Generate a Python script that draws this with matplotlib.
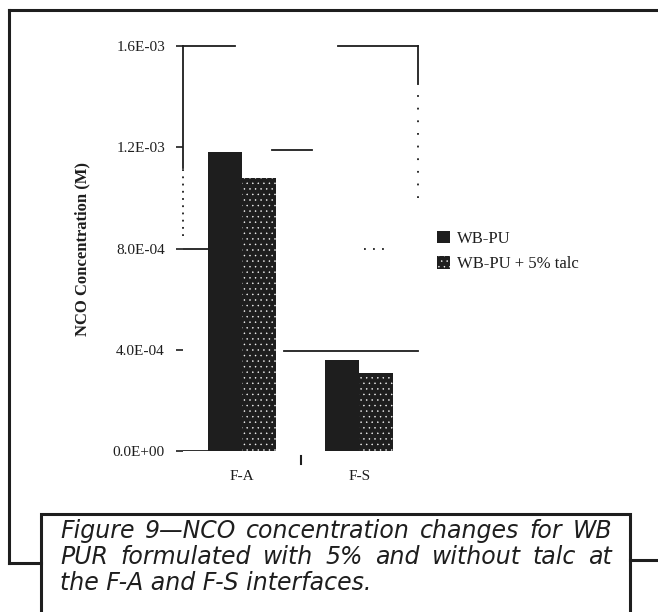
import numpy as np
import matplotlib
matplotlib.use("Agg")
import matplotlib.pyplot as plt
from matplotlib.patches import Rectangle
from matplotlib.lines import Line2D

# data
categories = ["F-A", "F-S"]
wbpu = [1.18e-3, 3.6e-4]
wbpu_talc = [1.08e-3, 3.1e-4]
series_labels = ["WB-PU", "WB-PU + 5% talc"]
yticks = [0.0, 4.0e-4, 8.0e-4, 1.2e-3, 1.6e-3]
ytick_labels = ["0.0E+00", "4.0E-04", "8.0E-04", "1.2E-03", "1.6E-03"]
caption = ["Figure 9\u2014NCO concentration changes for WB",
           "PUR formulated with 5% and without talc at",
           "the F-A and F-S interfaces."]

ink = "#1e1e1e"
serif = "Liberation Serif"
plt.rcParams["hatch.linewidth"] = 0.3

fig = plt.figure(figsize=(6.58, 6.12), dpi=100)
W, H = 658, 612

def fx(px):
    return px / W

def fy(py):
    return 1 - py / H

ax = fig.add_axes([fx(183), fy(451), fx(418) - fx(183), fy(46) - fy(451)])
x = np.arange(len(categories))
bw = 0.29
b1 = ax.bar(x - bw / 2, wbpu, bw, color=ink, linewidth=0)
b2 = ax.bar(x + bw / 2, wbpu_talc, bw, color=ink, edgecolor="white",
            hatch="...", linewidth=0)

ax.set_xlim(-0.5, 1.5)
ax.set_ylim(0, 1.6e-3)
ax.set_yticks(yticks)
ax.set_yticklabels(ytick_labels, fontfamily=serif, fontsize=11, color=ink)
ax.set_xticks(x)
ax.set_xticklabels(categories, fontfamily=serif, fontsize=11, color=ink)
ax.tick_params(axis="x", length=0, pad=14)
ax.tick_params(axis="y", length=5, width=1.2, color=ink, pad=8)
ax.set_ylabel("NCO Concentration (M)", fontfamily=serif, fontsize=12,
              fontweight="bold", color=ink, labelpad=16)

# faded frame and grid as in the scanned original
for s in ["top", "bottom", "left", "right"]:
    ax.spines[s].set_visible(False)
ax.plot([-0.5, -0.5], [1.12e-3, 1.6e-3], color=ink, lw=1.3, clip_on=False)
ax.plot([-0.5, -0.5], [0.85e-3, 1.12e-3], color=ink, lw=1.3, ls=(0, (1, 3)), clip_on=False)
ax.plot([1.5, 1.5], [1.45e-3, 1.6e-3], color=ink, lw=1.3, clip_on=False)
ax.plot([1.5, 1.5], [1.0e-3, 1.45e-3], color=ink, lw=1.3, ls=(0, (1, 6)), clip_on=False)
ax.axhline(1.6e-3, 0, 0.22, color=ink, lw=1.3, clip_on=False)
ax.axhline(1.6e-3, 0.66, 1.0, color=ink, lw=1.3, clip_on=False)
ax.axhline(1.19e-3, 0.38, 0.55, color=ink, lw=1.3)
ax.axhline(8.0e-4, 0, 0.12, color=ink, lw=1.3)
ax.axhline(8.0e-4, 0.77, 0.86, color=ink, lw=1.3, ls=(0, (1, 4)))
ax.axhline(3.95e-4, 0.43, 1.0, color=ink, lw=1.3, clip_on=False)
ax.axhline(0, 0, 0.12, color=ink, lw=1.3)
ax.plot([0.5, 0.5], [-0.05e-3, -0.02e-3], color=ink, lw=1.5, clip_on=False)

leg = fig.legend([b1, b2], series_labels, loc="upper left",
                 bbox_to_anchor=(fx(430), fy(224)), frameon=False,
                 prop={"family": serif, "size": 12}, handlelength=0.8,
                 handleheight=0.8, handletextpad=0.4, labelspacing=0.55,
                 borderaxespad=0)
for t in leg.get_texts():
    t.set_color(ink)

# outer frame and caption box
fig.add_artist(Line2D([fx(9), fx(9)], [fy(10), fy(563)], color=ink, lw=2.2))
fig.add_artist(Line2D([fx(9), 1.0], [fy(10), fy(10)], color=ink, lw=2.2))
fig.add_artist(Line2D([fx(9), fx(41)], [fy(563), fy(563)], color=ink, lw=2.2))
fig.add_artist(Line2D([fx(630), 1.0], [fy(560), fy(560)], color=ink, lw=2.2))
fig.add_artist(Rectangle((fx(41), -0.02), fx(630) - fx(41), fy(514) + 0.02,
                         fill=False, edgecolor=ink, lw=2.2))

# caption, justified like the printed page
renderer = fig.canvas.get_renderer()
cap_font = dict(family="DejaVu Sans", style="italic", size=17, color=ink)
left, right = 60, 612
line_y = [531, 557, 583]
for i, line in enumerate(caption):
    if i == len(caption) - 1:
        fig.text(fx(left), fy(line_y[i]), line, va="center", ha="left", **cap_font)
        continue
    words = line.split(" ")
    widths = []
    for w in words:
        t = fig.text(0, 0, w, **cap_font)
        widths.append(t.get_window_extent(renderer).width)
        t.remove()
    gap = (right - left - sum(widths)) / (len(words) - 1)
    pos = left
    for w, wd in zip(words, widths):
        fig.text(fx(pos), fy(line_y[i]), w, va="center", ha="left", **cap_font)
        pos += wd + gap

fig.savefig("out.png", dpi=100)
